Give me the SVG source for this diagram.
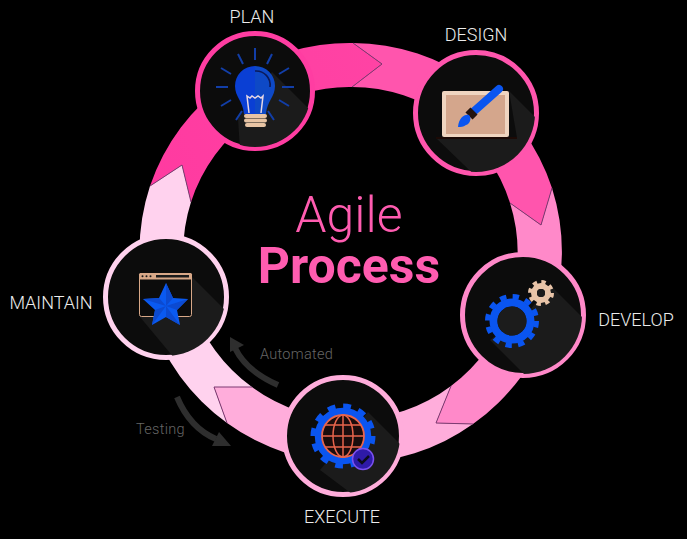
<svg xmlns="http://www.w3.org/2000/svg" width="687" height="539" viewBox="0 0 687 539">
<style>
.lab{font-family:Roboto,"Liberation Sans",sans-serif;font-weight:300;font-size:18px;fill:#ececec;text-anchor:middle}
.note{font-family:Roboto,"Liberation Sans",sans-serif;font-weight:300;font-size:14.500px;letter-spacing:.3px;fill:#666}
.disc{fill:#0c0c0c;stroke-width:5}
.shadow{fill:#1b1b1b}
.edge{fill:none;stroke:#7d3a72;stroke-width:1}
.flow{fill:none;stroke:#2e2e2e;stroke-width:6}
.ray{stroke:#123ea8;stroke-width:2;fill:none}
</style>
<defs>
<linearGradient id="gp" x1="150" y1="190" x2="380" y2="60" gradientUnits="userSpaceOnUse"><stop offset="0" stop-color="#ff3aa0"/><stop offset="1" stop-color="#ff43a4"/></linearGradient>
<clipPath id="c1"><circle cx="255" cy="91" r="56"/></clipPath>
<clipPath id="c2"><circle cx="476" cy="113" r="59"/></clipPath>
<clipPath id="c3"><circle cx="523" cy="315" r="59"/></clipPath>
<clipPath id="c4"><circle cx="343" cy="436" r="57"/></clipPath>
<clipPath id="c5"><circle cx="166" cy="297" r="59"/></clipPath>
</defs>
<rect width="687" height="539" fill="#000"/>

<g id="connectors">
<path d="M150 186A211 211 0 0 1 353 43L382 64 352 87A166 166 0 0 0 191 202L182 165Z" fill="url(#gp)"/>
<path d="M353 43A211 211 0 0 1 552 188L541 225 510 203A166 166 0 0 0 352 87L382 64Z" fill="#ff55ad"/>
<path d="M552 188A211 211 0 0 1 473 424L436 423 451 386A166 166 0 0 0 510 203L541 225Z" fill="#ff89c9"/>
<path d="M473 424A211 211 0 0 1 227 423L214 387 252 387A166 166 0 0 0 451 386L436 423Z" fill="#ffaddb"/>
<path d="M227 423A211 211 0 0 1 150 186L182 165 191 202A166 166 0 0 0 252 387L214 387Z" fill="#ffd2ee"/>
<path class="edge" d="M353 43L382 64 352 87M552 188L541 225 510 203M451 386L436 423 473 424M252 387L214 387 227 423M150 186L182 165 191 202"/>
<path class="flow" d="M278 385Q246 371 235 348"/>
<path d="M230 337L230 352 244 345Z" fill="#2e2e2e"/>
<path class="flow" d="M177 397Q190 428 216 439"/>
<path d="M231 446L212 446 219 432Z" fill="#2e2e2e"/>
</g>

<g id="node-plan">
<circle class="disc" cx="255" cy="91" r="57.500" stroke="#ff3da2"/>
<polygon class="shadow" clip-path="url(#c1)" points="272,72 330,130 290,170 240,150 238,118"/>
<path class="ray" d="M255 48V60M238 54L243 64M272 54L267 64M221 68L231 74M289 68L279 74M216 87H228M282 87H294M221 106L231 100M289 106L279 100M242 111L236 120M268 111L274 120"/>
<path d="M255 66A20 20 0 0 0 235 86C235 97 243 101 244 114H255Z" fill="#0a3fd4"/>
<path d="M255 66A20 20 0 0 1 275 86C275 97 267 101 266 114H255Z" fill="#0e49c6"/>
<path d="M255 71A14 14 0 0 1 270 87" fill="none" stroke="#0b1a5a" stroke-width="1.600"/>
<path d="M249 113L247 96 250 98 252 96 255 98 258 96 261 98 263 96 261 113" fill="none" stroke="#e8d8e4" stroke-width="1.500"/>
<rect x="244" y="114" width="23" height="4" rx="2" fill="#e8c4a4"/>
<rect x="244" y="118.500" width="23" height="4" rx="2" fill="#e8c4a4"/>
<rect x="245" y="123" width="21" height="4" rx="2" fill="#e8c4a4"/>
</g>

<g id="node-design">
<circle class="disc" cx="476" cy="113" r="60.500" stroke="#ff55ad"/>
<polygon class="shadow" clip-path="url(#c2)" points="509,91 560,142 490,190 436,138 517,138"/>
<rect x="442" y="91" width="67" height="46" rx="2" fill="#f0d5c0"/>
<rect x="446" y="95" width="59" height="39" fill="#d4a68c"/>
<rect x="436" y="137" width="81" height="2" fill="#1c0a06"/>
<path d="M499 89L472 113" stroke="#0a55f0" stroke-width="8" stroke-linecap="round"/>
<path d="M474 111L469 116" stroke="#241410" stroke-width="10"/>
<path d="M458 127C459 118 464 114 469 115 472 118 470 124 466 125 463 127 461 127 458 127Z" fill="#0a55f0"/>
</g>

<g id="node-develop">
<circle class="disc" cx="523" cy="315" r="60.500" stroke="#ff89c9"/>
<polygon class="shadow" clip-path="url(#c3)" points="550,285 600,335 560,390 525,375 490,340 530,310"/>
<circle cx="512" cy="321" r="24.500" fill="none" stroke="#0a55f0" stroke-width="5" stroke-dasharray="6.410 6.410"/>
<circle cx="512" cy="321" r="18.500" fill="none" stroke="#0a55f0" stroke-width="8"/>
<circle cx="512" cy="321" r="14.500" fill="#1c1c1c"/>
<circle cx="541" cy="293" r="11" fill="none" stroke="#e8c4a8" stroke-width="4" stroke-dasharray="4.320 4.320"/>
<circle cx="541" cy="293" r="7" fill="none" stroke="#e8c4a8" stroke-width="6"/>
<circle cx="541" cy="293" r="4" fill="#1c1c1c"/>
</g>

<g id="node-execute">
<circle class="disc" cx="343" cy="436" r="58.500" stroke="#ffaddb"/>
<polygon class="shadow" clip-path="url(#c4)" points="368,412 410,454 360,500 320,470"/>
<circle cx="343" cy="436" r="29.500" fill="none" stroke="#0a55f0" stroke-width="6" stroke-dasharray="7.720 7.720"/>
<circle cx="343" cy="436" r="24.500" fill="none" stroke="#0a55f0" stroke-width="7.500"/>
<circle cx="343" cy="436" r="21" fill="#1a0c0c" stroke="#e8644c" stroke-width="1.800"/>
<g fill="none" stroke="#e8644c" stroke-width="1.500">
<ellipse cx="343" cy="436" rx="10" ry="21"/>
<path d="M343 415V457M322 436H364M325 425H361M325 447H361"/>
</g>
<circle cx="363" cy="459" r="10.500" fill="#2e1aa8" stroke="#7a50f0" stroke-width="1.500"/>
<path d="M358 459L362 463 369 456" fill="none" stroke="#0c0c1c" stroke-width="2.500"/>
</g>

<g id="node-maintain">
<circle class="disc" cx="166" cy="297" r="60.500" stroke="#ffd2ee"/>
<polygon class="shadow" clip-path="url(#c5)" points="192,277 240,325 180,365 140,317"/>
<rect x="139.500" y="273.500" width="52" height="43" rx="2" fill="#0c0c0c" stroke="#d8a888"/>
<rect x="139" y="273" width="53" height="6.500" rx="1.500" fill="#d8a888"/>
<rect x="156" y="275" width="33" height="2.500" fill="#1a1a1a"/>
<circle cx="142.500" cy="276.300" r="1" fill="#1a1a1a"/>
<circle cx="146.500" cy="276.300" r="1" fill="#1a1a1a"/>
<circle cx="150.500" cy="276.300" r="1" fill="#1a1a1a"/>
<polygon points="166,283 173,298 188,299 177,310 180,325 166,317 152,325 155,310 143,299 159,298" fill="#0a5af0"/>
<polygon points="166,283 166,306 173,298" fill="#0c4ad0"/>
<polygon points="166,306 188,299 177,310" fill="#0c4ad0"/>
<polygon points="166,306 180,325 166,317" fill="#0c4ad0"/>
<polygon points="166,306 152,325 155,310" fill="#0c4ad0"/>
<polygon points="166,306 143,299 159,298" fill="#0c4ad0"/>
</g>

<g id="title">
<text x="349" y="232" font-family="Roboto, 'Liberation Sans', sans-serif" font-weight="300" font-size="50" fill="#ff5cb0" text-anchor="middle">Agile</text>
<text x="349" y="283" font-family="Roboto, 'Liberation Sans', sans-serif" font-weight="700" font-size="50" fill="#ff5cb0" text-anchor="middle">Process</text>
</g>
<g id="labels">
<text class="lab" x="252" y="23">PLAN</text>
<text class="lab" x="476" y="41">DESIGN</text>
<text class="lab" x="636" y="326">DEVELOP</text>
<text class="lab" x="342" y="523">EXECUTE</text>
<text class="lab" x="51" y="309">MAINTAIN</text>
<text class="note" x="260" y="359">Automated</text>
<text class="note" x="136" y="434">Testing</text>
</g>
</svg>
